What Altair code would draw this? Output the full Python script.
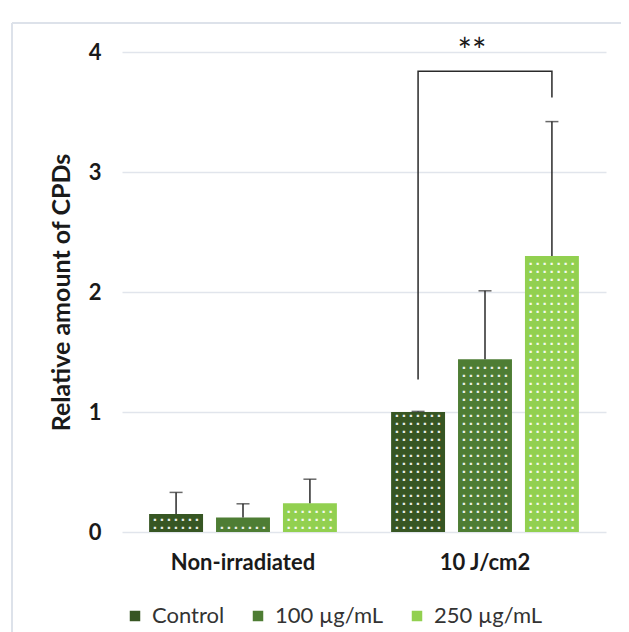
import altair as alt
import pandas as pd
import numpy as np

groups = ["Non-irradiated", "10 J/cm2"]
series = ["Control", "100 µg/mL", "250 µg/mL"]
colors = ["#375623", "#4e7d34", "#92d050"]
means_nonirr = [0.15, 0.12, 0.24]
means_10j = [1.00, 1.44, 2.30]
err_nonirr = [0.18, 0.115, 0.20]
err_10j = [0.005, 0.57, 1.12]
bracket_y = [1.27, 3.84, 3.84, 3.62]
bracket_series = ["Control", "Control", "250 µg/mL", "250 µg/mL"]
sig_label = "**"
sig_y = 4.07

rows = []
for g, ms, es in [(groups[0], means_nonirr, err_nonirr), (groups[1], means_10j, err_10j)]:
    for s, m, e in zip(series, ms, es):
        rows.append({"group": g, "series": s, "value": m, "top": m + e})
df = pd.DataFrame(rows)

# dot texture inside bars (derived from bar heights)
step = 1 / 15
dots = []
for r in rows:
    y = step / 2
    while y < r["value"] - step * 0.35:
        dots.append({"group": r["group"], "series": r["series"], "y": y})
        y += step
dots_df = pd.DataFrame(dots)

br_df = pd.DataFrame({"group": [groups[1]] * 4, "series": bracket_series,
                      "y": bracket_y, "order": [0, 1, 2, 3]})
sig_df = pd.DataFrame({"group": [groups[1]], "series": [series[1]], "y": [sig_y], "t": [sig_label]})

FONT = "Lato"
xenc = alt.X("group:N", sort=groups, title=None,
             scale=alt.Scale(paddingInner=0, paddingOuter=0),
             axis=alt.Axis(labelAngle=0, labelFont=FONT, labelFontSize=22, labelFontWeight="bold",
                           labelColor="#1a1a1a", domain=False, ticks=False, grid=False,
                           labelPadding=20))
xoff = alt.XOffset("series:N", sort=series,
                   scale=alt.Scale(paddingInner=0.194, paddingOuter=0.405))

bars = alt.Chart(df).mark_bar().encode(
    x=xenc, xOffset=xoff,
    y=alt.Y("value:Q", scale=alt.Scale(domain=[0, 4], nice=False),
            title="Relative amount of CPDs",
            axis=alt.Axis(values=[0, 1, 2, 3, 4], format="d", labelFont=FONT, labelFontSize=22,
                          labelFontWeight="bold", labelColor="#1a1a1a", titleFont=FONT,
                          titleFontSize=25, titleFontWeight="bold", titleColor="#1a1a1a",
                          domain=False, ticks=False, labelPadding=21, titlePadding=14,
                          gridColor="#e1e5ec", gridWidth=1.5)),
    color=alt.Color("series:N", sort=series, scale=alt.Scale(domain=series, range=colors),
                    legend=alt.Legend(title=None, orient="none", direction="horizontal",
                                      columns=3, legendX=2, legendY=553, symbolType="square",
                                      symbolSize=110, symbolStrokeWidth=0, labelFont=FONT,
                                      labelFontSize=22, labelColor="#333", columnPadding=22,
                                      labelOffset=6)),
)

xs = alt.X("group:N", sort=groups)
xo = alt.XOffset("series:N", sort=series)

dot_layers = []
for dx in [-21, -14, -7, 0, 7, 14, 21]:
    dot_layers.append(
        alt.Chart(dots_df).mark_text(text="■", fontSize=4.5, color="white", dx=dx,
                                     baseline="middle", align="center", opacity=0.9).encode(
            x=xs, xOffset=xo, y="y:Q"))

err_rule = alt.Chart(df).mark_rule(color="#2a2a2a", strokeWidth=1.5).encode(
    x=xs, xOffset=xo, y="value:Q", y2="top:Q")
err_cap = alt.Chart(df).mark_tick(color="#2a2a2a", thickness=1.5, size=13, orient="horizontal").encode(
    x=xs, xOffset=xo, y="top:Q")

bracket = alt.Chart(br_df).mark_line(color="#2a2a2a", strokeWidth=1.5).encode(
    x=xs, xOffset=xo, y="y:Q", order="order:Q")
sig = alt.Chart(sig_df).mark_text(font=FONT, fontSize=34, color="#1a1a1a",
                                  dx=-13, dy=19, baseline="alphabetic").encode(
    x=xs, xOffset=xo, y="y:Q", text="t:N")

frame_left = alt.Chart(df).mark_rule(color="#dde2ea", strokeWidth=2).encode(
    x=alt.value(-110), y=alt.value(-29), y2=alt.value(700))
frame_top = alt.Chart(df).mark_rule(color="#dde2ea", strokeWidth=2).encode(
    x=alt.value(-110), x2=alt.value(700), y=alt.value(-29))

chart = alt.layer(frame_left, frame_top, bars, *dot_layers, err_rule, err_cap, bracket, sig).properties(
    width=484, height=480,
    background="white",
    autosize=alt.AutoSizeParams(type="none"),
    padding={"left": 114, "top": 44, "right": 15, "bottom": 100},
).configure_view(stroke=None).configure_axis(domain=False, ticks=False)

chart.save("out.html", embed_options={"renderer": "svg", "actions": False})
